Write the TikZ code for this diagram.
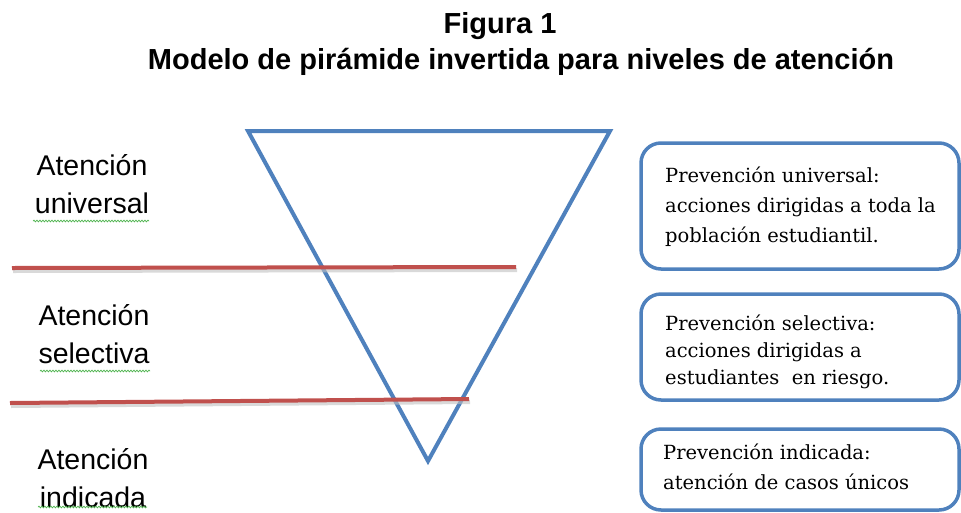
\documentclass[tikz,border=0pt]{standalone}
\usepackage{fontspec}
\setmainfont{Liberation Sans}
\newfontfamily\boxfont{DejaVu Serif}
\usetikzlibrary{decorations.pathmorphing}
\definecolor{triblue}{RGB}{79,129,189}
\definecolor{linered}{RGB}{192,80,77}
\definecolor{spellgreen}{RGB}{80,180,80}
\tikzset{
  title/.style={font=\fontsize{29}{34}\selectfont\bfseries, inner sep=0pt},
  lvl/.style={font=\fontsize{28.5}{38}\selectfont, align=center, inner sep=0pt},
  infobox/.style={draw=triblue, line width=3.5pt, rounded corners=20pt},
  infotext/.style={font=\boxfont\fontsize{19.5}{30}\selectfont, align=left, anchor=north west, inner sep=0pt},
  divider/.style={draw=linered, line width=4pt},
  dshadow/.style={draw=black!25, line width=4pt, opacity=0.6},
  squiggle/.style={draw=spellgreen, line width=0.7pt, decorate, decoration={snake, amplitude=0.9pt, segment length=3pt}}
}
\begin{document}
\begin{tikzpicture}[x=1pt, y=-1pt]
\useasboundingbox (0,0) rectangle (961,512);
% titles
\node[title] (t1) at (500,26) {Figura 1};
\node[title] (t2) at (521,62) {Modelo de pirámide invertida para niveles de atención};
% triangle
\coordinate (tl) at (248,131);
\coordinate (tr) at (610,131);
\coordinate (tb) at (428,461);
\draw[triblue, line width=4pt, line join=miter] (tl) -- (tr) -- (tb) -- cycle;
% dividers
\coordinate (r1a) at (12,268);
\coordinate (r1b) at (516,267);
\coordinate (r2a) at (10,403);
\coordinate (r2b) at (469,399);
\draw[dshadow] ([shift={(1,3)}]r1a) -- ([shift={(1,3)}]r1b);
\draw[dshadow] ([shift={(1,3)}]r2a) -- ([shift={(1,3)}]r2b);
\draw[divider] (r1a) -- (r1b);
\draw[divider] (r2a) -- (r2b);
% left labels
\node[lvl] (l1) at (92,184) {Atención\\universal};
\node[lvl] (l2) at (94,334) {Atención\\selectiva};
\node[lvl] (l3) at (93,478) {Atención\\indicada};
\coordinate (s1a) at (33,221); \coordinate (s1b) at (149,221);
\coordinate (s2a) at (40,371); \coordinate (s2b) at (150,371);
\coordinate (s3a) at (38,507); \coordinate (s3b) at (147,507);
\draw[squiggle] (s1a) -- (s1b);
\draw[squiggle] (s2a) -- (s2b);
\draw[squiggle] (s3a) -- (s3b);
% right boxes
\draw[infobox] (641,143) rectangle (959,269);
\draw[infobox] (641,294) rectangle (959,400);
\draw[infobox] (641,429) rectangle (959,510);
\node[infotext] (b1) at (665,167) {Prevención universal:\\acciones dirigidas a toda la\\población estudiantil.};
\node[infotext, font=\boxfont\fontsize{19.5}{27}\selectfont] (b2) at (665,315) {Prevención selectiva:\\acciones dirigidas a\\estudiantes \ en riesgo.};
\node[infotext] (b3) at (663,444) {Prevención indicada:\\atención de casos únicos};
\end{tikzpicture}
\end{document}
